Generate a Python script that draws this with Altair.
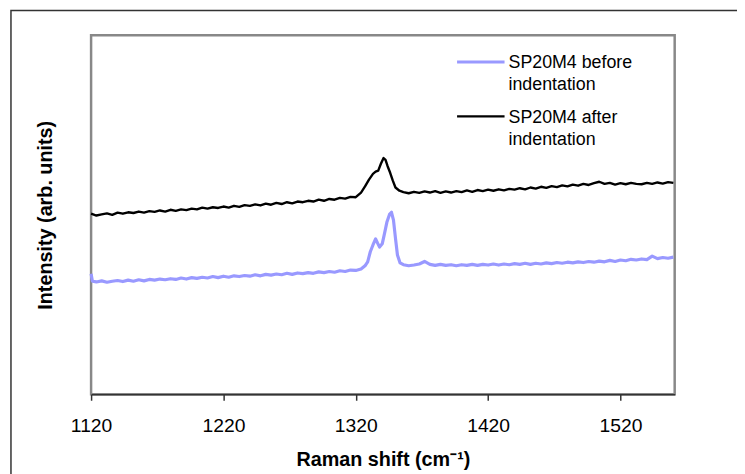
import altair as alt
import pandas as pd

# ---- data ----
series_names = ["SP20M4 before indentation", "SP20M4 after indentation"]
legend_lines = [["SP20M4 before", "indentation"], ["SP20M4 after", "indentation"]]
x_ticks = [1120, 1220, 1320, 1420, 1520]

after_x = [1120, 1124, 1128, 1132, 1136, 1140, 1144, 1148, 1152, 1156, 1160, 1164, 1168, 1172,
           1176, 1180, 1184, 1188, 1192, 1196, 1200, 1204, 1208, 1212, 1216, 1220, 1224, 1228,
           1232, 1236, 1240, 1244, 1248, 1252, 1256, 1260, 1264, 1268, 1272, 1276, 1280, 1284,
           1288, 1292, 1296, 1300, 1304, 1308, 1312, 1316, 1320,
           1324, 1327, 1330, 1333, 1335, 1337, 1339, 1341, 1342.5, 1344, 1346, 1348, 1350, 1353,
           1356, 1360, 1364, 1368, 1372, 1376, 1380, 1384, 1388, 1392, 1396, 1400, 1404, 1408,
           1412, 1416, 1420, 1424, 1428, 1432, 1436, 1440, 1444, 1448, 1452, 1456, 1460, 1464,
           1468, 1472, 1476, 1480, 1484, 1488, 1492, 1496, 1500, 1504, 1508, 1512, 1516, 1520,
           1524, 1528, 1532, 1536, 1540, 1544, 1548, 1552, 1556, 1560]
after_y = [50.3, 49.8, 50.1, 50.4, 50.0, 50.6, 50.3, 50.7, 50.5, 50.9, 50.6, 51.0, 50.8, 51.2,
           50.9, 51.4, 51.1, 51.5, 51.3, 51.7, 51.5, 52.0, 51.7, 52.1, 51.9, 52.3, 52.0, 52.5,
           52.2, 52.7, 52.5, 52.9, 52.6, 53.1, 52.8, 53.3, 53.0, 53.5, 53.2, 53.7, 53.5, 53.9,
           53.7, 54.2, 53.9, 54.4, 54.2, 54.7, 54.5, 55.0, 54.9,
           56.2, 57.9, 59.8, 61.4, 62.0, 62.3, 64.2, 65.8, 65.3, 63.6, 61.7, 59.5, 57.6, 56.7,
           56.3, 56.0, 56.4, 56.1, 56.5, 56.2, 56.6, 56.1, 56.5, 56.2, 56.6, 56.3, 56.8, 56.4,
           56.9, 56.6, 57.0, 56.7, 57.1, 56.8, 57.2, 57.0, 57.4, 57.1, 57.6, 57.3, 57.8, 57.5,
           58.0, 57.7, 58.2, 57.9, 58.4, 58.1, 58.6, 58.3, 58.8, 59.2, 58.6, 58.9, 58.4, 58.8,
           58.5, 58.9, 58.6, 58.5, 58.9, 58.6, 59.0, 58.7, 59.1, 58.9]

before_x = [1120, 1121, 1124, 1128, 1132, 1136, 1140, 1144, 1148, 1152, 1156, 1160, 1164, 1168,
            1172, 1176, 1180, 1184, 1188, 1192, 1196, 1200, 1204, 1208, 1212, 1216, 1220, 1224,
            1228, 1232, 1236, 1240, 1244, 1248, 1252, 1256, 1260, 1264, 1268, 1272, 1276, 1280,
            1284, 1288, 1292, 1296, 1300, 1304, 1308, 1312, 1316, 1320, 1324,
            1327, 1329, 1331, 1333, 1335, 1336.5, 1338, 1340, 1341.5, 1343.5, 1345.5, 1347,
            1348.5, 1350, 1351.5, 1353.5,
            1356, 1360, 1364, 1368, 1372, 1376, 1380, 1384, 1388, 1392, 1396, 1400, 1404, 1408,
            1412, 1416, 1420, 1424, 1428, 1432, 1436, 1440, 1444, 1448, 1452, 1456, 1460, 1464,
            1468, 1472, 1476, 1480, 1484, 1488, 1492, 1496, 1500, 1504, 1508, 1512, 1516, 1520,
            1524, 1528, 1532, 1536, 1540, 1544, 1548, 1552, 1556, 1560]
before_y = [33.6, 31.5, 31.3, 31.6, 31.2, 31.5, 31.7, 31.4, 31.8, 31.5, 31.9, 31.6, 32.0, 31.8,
            32.1, 31.9, 32.2, 32.0, 32.4, 32.1, 32.5, 32.3, 32.6, 32.4, 32.8, 32.5, 32.9, 32.6,
            33.0, 32.8, 33.1, 32.9, 33.3, 33.0, 33.4, 33.2, 33.5, 33.3, 33.7, 33.4, 33.8, 33.6,
            33.9, 33.7, 34.1, 33.9, 34.2, 34.0, 34.4, 34.2, 34.6, 34.5, 34.9,
            35.8, 36.9, 39.7, 41.6, 43.3, 42.1, 41.0, 41.9, 44.4, 47.9, 50.1, 50.7,
            48.5, 43.5, 38.8, 36.6,
            36.1, 35.8, 36.0, 36.3, 37.0, 36.2, 35.9, 36.2, 35.9, 36.1, 35.8, 36.1, 35.9, 36.2,
            35.9, 36.2, 36.0, 36.3, 36.0, 36.3, 36.1, 36.4, 36.2, 36.5, 36.2, 36.5, 36.3, 36.6,
            36.4, 36.7, 36.5, 36.8, 36.6, 36.9, 36.7, 37.0, 36.8, 37.1, 36.9, 37.3, 37.0, 37.4,
            37.2, 37.6, 37.4, 37.7, 37.5, 38.5, 37.8, 38.1, 37.9, 38.2]

colors = ["#9999FF", "#000000"]
widths = [3.2, 2.4]

df_before = pd.DataFrame({"shift": before_x, "intensity": before_y,
                          "series": series_names[0], "i": range(len(before_x))})
df_after = pd.DataFrame({"shift": after_x, "intensity": after_y,
                         "series": series_names[1], "i": range(len(after_x))})

FONT = "Liberation Sans"

xscale = alt.Scale(domain=[1120, 1561], nice=False, zero=False)
yscale = alt.Scale(domain=[0, 100], nice=False, zero=False)

xaxis = alt.Axis(values=x_ticks, grid=False, title="Raman shift (cm\u207b\u00b9)",
                 titleX=295, titleY=66, titleBaseline="middle", titleAlign="center",
                 format="d", labelPadding=17, labelFlush=False, labelOverlap=False)
yaxis = alt.Axis(labels=False, ticks=False, domain=False, grid=False,
                 title="Intensity (arb. units)", titleX=-46, titleY=181.5,
                 titleAngle=270, titleBaseline="middle", titleAlign="center")


def line_layer(df, color, width):
    return alt.Chart(df).mark_line(color=color, strokeWidth=width, strokeJoin="round").encode(
        x=alt.X("shift:Q", scale=xscale, axis=xaxis),
        y=alt.Y("intensity:Q", scale=yscale, axis=yaxis),
        order="i:Q",
    )


one = pd.DataFrame({"k": [0]})

layers = [line_layer(df_before, colors[0], widths[0]), line_layer(df_after, colors[1], widths[1])]

# legend (inside plot, top right)
leg_y = [27, 82]
for j in range(2):
    layers.append(alt.Chart(one).mark_rule(color=colors[j], strokeWidth=widths[j]).encode(
        x=alt.value(370), x2=alt.value(418), y=alt.value(leg_y[j])))
    layers.append(alt.Chart(one).mark_text(text=legend_lines[j], align="left",
                                           baseline="alphabetic", lineHeight=22,
                                           fontSize=18, font=FONT, color="#000000").encode(
        x=alt.value(422), y=alt.value(leg_y[j] + 6.5)))

# outer chart-area frame
layers.append(alt.Chart(one).mark_rect(fill="transparent", stroke="#333333", strokeWidth=1.5).encode(
    x=alt.value(-81), x2=alt.value(700), y=alt.value(-25), y2=alt.value(520)))

chart = alt.layer(*layers).properties(
    width=590, height=363,
    autosize="none",
    padding={"left": 84, "top": 25, "right": 63, "bottom": 78},
    background="white",
).configure_view(
    stroke="#888888", strokeWidth=2.5
).configure_axis(
    labelFont=FONT, titleFont=FONT, labelColor="#000000", titleColor="#000000",
    labelFontSize=19.5, titleFontSize=20, titleFontWeight="bold",
).configure_axisX(
    domainColor="#333333", domainWidth=1.5, tickColor="#333333", tickWidth=1.5, tickSize=6,
)

chart.save("out.html", embed_options={"renderer": "svg", "actions": False})
